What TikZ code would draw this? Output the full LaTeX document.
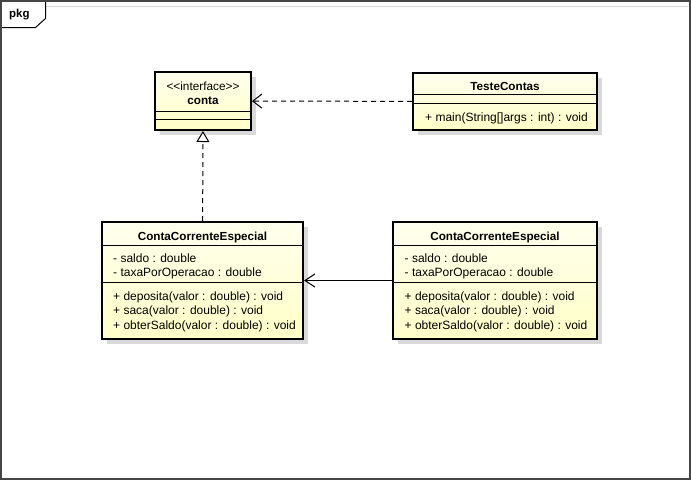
\documentclass[tikz,border=0pt]{standalone}
\usepackage{fontspec}
\setmainfont{Liberation Sans}
\usetikzlibrary{arrows.meta,shadows}
\definecolor{classtop}{RGB}{255,255,238}
\definecolor{classbot}{RGB}{255,255,200}
\definecolor{framegray}{RGB}{70,70,70}
\begin{document}
\begin{tikzpicture}[x=1pt, y=-1pt,
    classbox/.style = {draw, line width=2pt, inner sep=0pt, top color=classtop, bottom color=classbot,
        drop shadow={shadow xshift=5pt, shadow yshift=-5pt, fill=black!15, opacity=1}},
    title/.style = {anchor=base, font=\fontsize{11.7}{14}\selectfont\bfseries},
    stereo/.style = {anchor=base, font=\fontsize{11.8}{14}\selectfont},
    member/.style = {anchor=base west, inner sep=0pt, font=\fontsize{12}{14}\selectfont},
    sep/.style = {line width=1pt},
    dep/.style = {line width=1pt, dash pattern=on 5pt off 4pt, -{Straight Barb[length=9pt, width=14pt]}},
    real/.style = {line width=1pt, dash pattern=on 5pt off 4pt, -{Triangle[open, length=11pt, width=13pt, fill=white]}},
    assoc/.style = {line width=1pt, -{Straight Barb[length=10pt, width=13pt]}}]
    \useasboundingbox (0,0) rectangle (691,480);

    % frame
    \draw[framegray, line width=2pt] (1,1) rectangle (690,479);
    \draw[black!15] (46,6.5) -- (688,6.5);
    \draw[line width=1pt] (45.5,2) -- (45.5,18.5) -- (35.5,27.5) -- (2,27.5);
    \node[anchor=base west, inner sep=0pt, font=\fontsize{11.5}{14}\selectfont\bfseries] (pkg) at (9,17.3) {pkg};

    % classes
    \node[classbox, minimum width=96pt, minimum height=58pt] (conta) at (203,101) {};
    \node[stereo] (contast) at (203,90) {{<}{<}interface{>}{>}};
    \node[title] (contaname) at (203,104.3) {conta};
    \draw[sep] (155,111.5) -- (251,111.5);
    \draw[sep] (155,119.5) -- (251,119.5);

    \node[classbox, minimum width=184pt, minimum height=57pt] (teste) at (505,101.5) {};
    \node[title] (testename) at (505,90.5) {TesteContas};
    \draw[sep] (413,94.5) -- (597,94.5);
    \draw[sep] (413,103.5) -- (597,103.5);
    \node[member] (main) at (425,121.5) {+ main(String[]args : int) : void};

    \node[classbox, minimum width=201pt, minimum height=117pt] (cce1) at (202.5,280.5) {};
    \node[title] (cce1name) at (202.5,240) {ContaCorrenteEspecial};
    \draw[sep] (102,245.5) -- (303,245.5);
    \draw[sep] (102,282.5) -- (303,282.5);
    \node[member] at (113,262.5) {- saldo : double};
    \node[member] at (113,276.8) {- taxaPorOperacao : double};
    \node[member] at (113,300.5) {+ deposita(valor : double) : void};
    \node[member] at (113,314.8) {+ saca(valor : double) : void};
    \node[member] at (113,329.1) {+ obterSaldo(valor : double) : void};

    \node[classbox, minimum width=204pt, minimum height=117pt] (cce2) at (495,280.5) {};
    \node[title] (cce2name) at (495,240) {ContaCorrenteEspecial};
    \draw[sep] (393,245.5) -- (597,245.5);
    \draw[sep] (393,282.5) -- (597,282.5);
    \node[member] at (404.5,262.5) {- saldo : double};
    \node[member] at (404.5,276.8) {- taxaPorOperacao : double};
    \node[member] at (404.5,300.5) {+ deposita(valor : double) : void};
    \node[member] at (404.5,314.8) {+ saca(valor : double) : void};
    \node[member] at (404.5,329.1) {+ obterSaldo(valor : double) : void};

    % relations
    \draw[dep] (teste) -- (conta);
    \draw[real] (cce1) -- (conta);
    \draw[assoc] (cce2) -- (cce1);

\end{tikzpicture}
\end{document}
